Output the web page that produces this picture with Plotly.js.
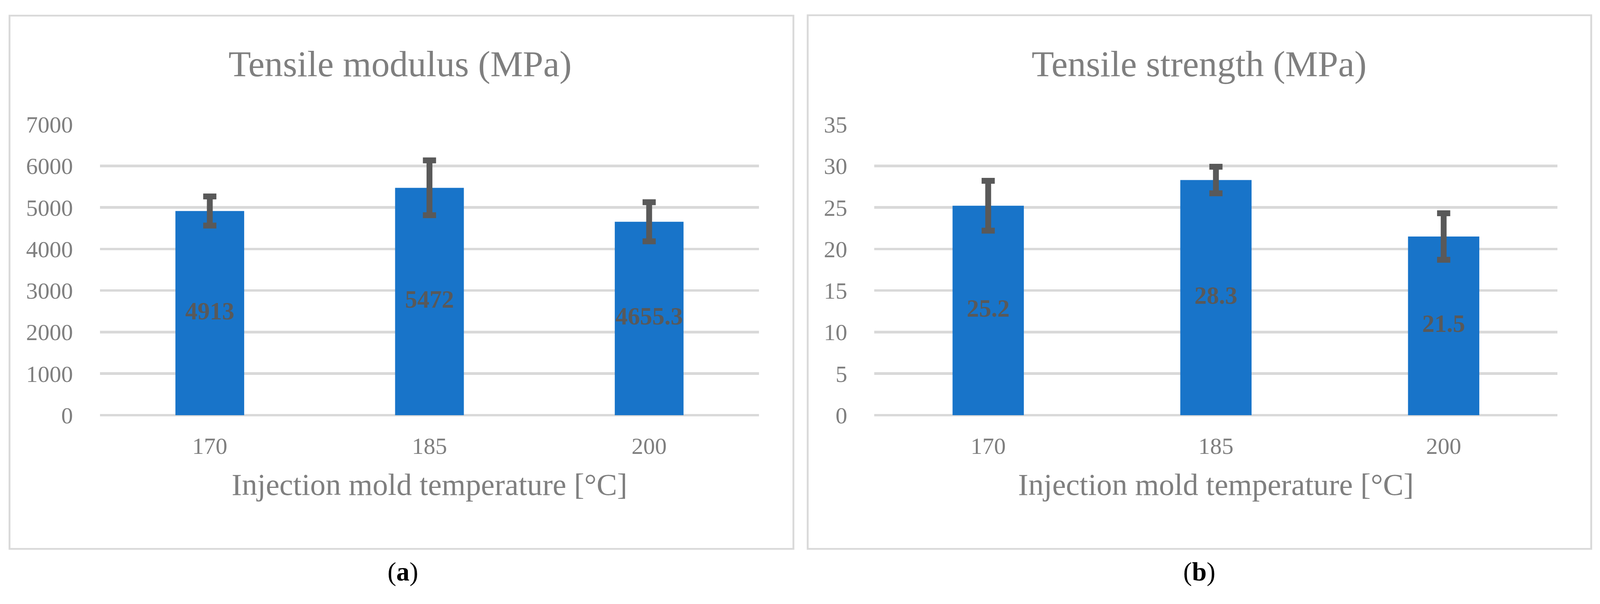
<!DOCTYPE html>
<html>
<head>
<meta charset="utf-8">
<script src="https://cdn.plot.ly/plotly-3.0.1.min.js"></script>
<style>html,body{margin:0;padding:0;background:#fff;overflow:hidden;}#chart{width:100vw;height:100vh;}</style>
</head>
<body>
<div id="chart"></div>
<script>
// ---- data ----
const temps = ['170', '185', '200'];
const modulus = [4913, 5472, 4655.3];
const modulusErr = [350, 660, 470];
const strength = [25.2, 28.3, 21.5];
const strengthErr = [3.0, 1.6, 2.8];
const panelTitles = ['Tensile modulus (MPa)', 'Tensile strength (MPa)'];
const xTitle = 'Injection mold temperature [°C]';
const panelLetters = ['a', 'b'];

// ---- styles ----
const FONT = 'Liberation Serif, Times New Roman, serif';
const GRAY = '#7f7f7f';
const DARK = '#595959';
const BLUE = '#1874c9';
const GRID = '#d9d9d9';

const REF_W = 4370, REF_H = 1545;
const W = window.innerWidth || REF_W;
const H = window.innerHeight || REF_H;
const S = Math.min(W / REF_W, H / REF_H);
const px = v => v / REF_W;
const py = v => 1 - v / REF_H;
const f = v => v * S;

function barTrace(vals, errs, xa, ya) {
  return {
    type: 'bar', x: temps, y: vals, xaxis: xa, yaxis: ya,
    marker: {color: BLUE},
    error_y: {type: 'data', array: errs, visible: true, color: DARK, thickness: f(16), width: f(18)},
    hoverinfo: 'x+y', showlegend: false
  };
}
function labelTrace(vals, xa, ya) {
  return {
    type: 'scatter', mode: 'text', x: temps, y: vals.map(v => v / 2),
    text: vals.map(v => String(v)), xaxis: xa, yaxis: ya,
    textposition: 'middle center',
    textfont: {family: FONT, size: f(67), color: DARK},
    texttemplate: '<b>%{text}</b>',
    hoverinfo: 'skip', showlegend: false
  };
}

const data = [
  barTrace(modulus, modulusErr, 'x', 'y'),
  labelTrace(modulus, 'x', 'y'),
  barTrace(strength, strengthErr, 'x2', 'y2'),
  labelTrace(strength, 'x2', 'y2')
];

function xAxis(dom, anchor) {
  return {
    domain: dom, anchor: anchor, type: 'category',
    showgrid: false, zeroline: false, showline: false,
    ticks: 'outside', ticklen: f(28), tickcolor: 'rgba(0,0,0,0)',
    tickfont: {family: FONT, size: f(64), color: GRAY},
    title: {text: xTitle, font: {family: FONT, size: f(84), color: GRAY}, standoff: f(40)},
    fixedrange: true
  };
}
function yAxis(range, dtick, anchor) {
  return {
    domain: [py(1062), py(318)], anchor: anchor, range: range, dtick: dtick,
    showgrid: true, gridcolor: GRID, gridwidth: f(7),
    zeroline: true, zerolinecolor: GRID, zerolinewidth: f(7),
    showline: false,
    ticks: 'outside', ticklen: f(60), tickcolor: 'rgba(0,0,0,0)',
    tickfont: {family: FONT, size: f(64), color: GRAY},
    fixedrange: true
  };
}

const layout = {
  width: W, height: H,
  margin: {l: 0, r: 0, t: 0, b: 0},
  paper_bgcolor: '#ffffff', plot_bgcolor: '#ffffff',
  bargap: 0.687,
  xaxis: xAxis([px(273), px(2073)], 'y'),
  yaxis: yAxis([0, 7000], 1000, 'x'),
  xaxis2: xAxis([px(2388), px(4254)], 'y2'),
  yaxis2: yAxis([0, 35], 5, 'x2'),
  shapes: [
    {type: 'rect', xref: 'paper', yref: 'paper', x0: px(26), x1: px(2167), y0: py(1404), y1: py(40),
     line: {color: GRID, width: f(5)}, fillcolor: 'rgba(0,0,0,0)'},
    {type: 'rect', xref: 'paper', yref: 'paper', x0: px(2206), x1: px(4346), y0: py(1404), y1: py(39),
     line: {color: GRID, width: f(5)}, fillcolor: 'rgba(0,0,0,0)'}
  ],
  annotations: [
    {text: panelTitles[0], xref: 'paper', yref: 'paper', x: px(1092), y: py(163), xanchor: 'center', yanchor: 'middle',
     showarrow: false, font: {family: FONT, size: f(100), color: GRAY}},
    {text: panelTitles[1], xref: 'paper', yref: 'paper', x: px(3275), y: py(163), xanchor: 'center', yanchor: 'middle',
     showarrow: false, font: {family: FONT, size: f(100), color: GRAY}},
    {text: '(<b>' + panelLetters[0] + '</b>)', xref: 'paper', yref: 'paper', x: px(1100), y: py(1462), xanchor: 'center', yanchor: 'middle',
     showarrow: false, font: {family: FONT, size: f(72), color: '#000000'}},
    {text: '(<b>' + panelLetters[1] + '</b>)', xref: 'paper', yref: 'paper', x: px(3275), y: py(1462), xanchor: 'center', yanchor: 'middle',
     showarrow: false, font: {family: FONT, size: f(72), color: '#000000'}}
  ]
};

Plotly.newPlot('chart', data, layout, {displayModeBar: false, staticPlot: true});
</script>
</body>
</html>
